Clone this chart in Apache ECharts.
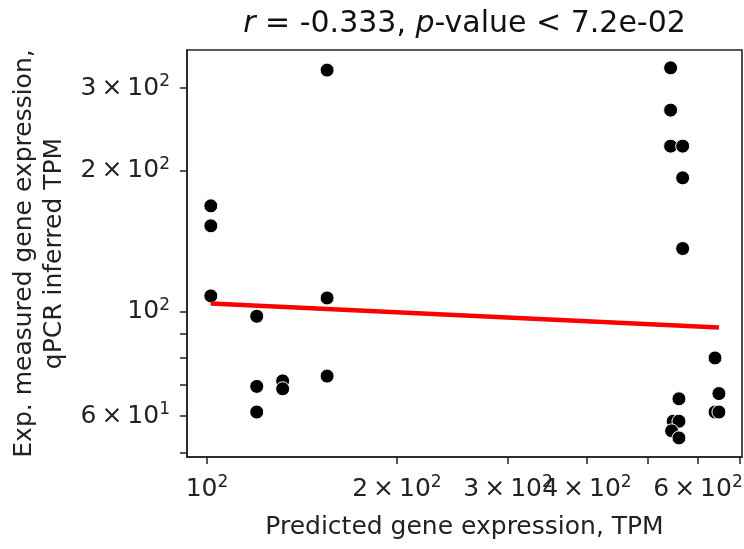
<!DOCTYPE html>
<html>
<head>
<meta charset="utf-8">
<script src="https://cdn.jsdelivr.net/npm/echarts@6/dist/echarts.min.js"></script>
<style>html,body{margin:0;padding:0;background:#fff}#c{width:744px;height:549px}</style>
</head>
<body>
<div id="c"></div>
<script>
// Data
const predictedTPM = [101.4, 101.4, 101.4, 119.9, 119.9, 119.9, 131.8, 131.8, 155.0, 155.0, 155.0,
  543.0, 543.0, 543.0, 567.4, 567.4, 567.4, 559.8, 548.2, 559.8, 545.0, 559.8, 638.5, 647.7, 638.5, 647.7];
const measuredTPM = [168.3, 152.6, 108.2, 97.9, 69.4, 61.2, 71.3, 68.6, 327.6, 107.1, 73.0,
  331.3, 269.2, 225.6, 225.6, 193.1, 136.5, 65.3, 58.5, 58.5, 55.8, 53.9, 79.8, 67.0, 61.2, 61.2];
const fitX = [101.4, 647.7];
const fitY = [104.2, 92.6];
const xTickValues = [100, 200, 300, 400, 500, 600, 700];
const xLabelValues = [100, 200, 300, 400, 600];
const yTickValues = [50, 60, 70, 80, 90, 100, 200, 300];
const yLabelValues = [60, 100, 200, 300];
const titleText = '{i|r} = -0.333, {i|p}-value < 7.2e-02';
const xName = 'Predicted gene expression, TPM';
const yName = 'Exp. measured gene expression,\nqPCR inferred TPM';

const FONT = 'DejaVu Sans';
function sciLabel(v) {
  const e = Math.floor(Math.log10(v) + 1e-9);
  const m = Math.round(v / Math.pow(10, e));
  return m === 1 ? '10{sup|' + e + '}' : m + '\u2009×\u200910{sup|' + e + '}';
}
const labelRich = { sup: { fontSize: 17, lineHeight: 15, verticalAlign: 'top', fontFamily: FONT, color: '#222' } };

const gridL = 187, gridR = 2, gridT = 50, gridB = 92;
const chart = echarts.init(document.getElementById('c'), null, { renderer: 'canvas' });
chart.setOption({
  animation: false,
  title: {
    text: titleText,
    left: (gridL + 744 - gridR) / 2,
    textAlign: 'center',
    top: 9,
    padding: 0,
    textStyle: {
      fontFamily: FONT, fontSize: 30, fontWeight: 'normal', color: '#111',
      rich: { i: { fontFamily: FONT, fontSize: 30, fontStyle: 'italic', color: '#111' } }
    }
  },
  grid: {
    left: gridL, right: gridR, top: gridT, bottom: gridB,
    show: true, borderColor: '#222', borderWidth: 1.6,
    containLabel: false, outerBoundsMode: 'none'
  },
  xAxis: {
    type: 'log', logBase: 10, min: 92.96, max: 704.6,
    name: xName, nameLocation: 'middle', nameGap: 58,
    nameTextStyle: { fontFamily: FONT, fontSize: 25, color: '#222' },
    axisLine: { show: true, lineStyle: { color: '#222', width: 1.6 } },
    axisTick: { show: true, length: 7, customValues: xTickValues, lineStyle: { color: '#222', width: 1.5 } },
    axisLabel: {
      customValues: xLabelValues, hideOverlap: false, margin: 17,
      fontFamily: FONT, fontSize: 25, lineHeight: 30, color: '#222',
      formatter: v => sciLabel(v), rich: labelRich
    },
    splitLine: { show: false }, minorTick: { show: false }
  },
  yAxis: {
    type: 'log', logBase: 10, min: 49.08, max: 361.6,
    name: yName, nameLocation: 'middle', nameGap: 114, nameRotate: 90,
    nameTextStyle: { fontFamily: FONT, fontSize: 25, lineHeight: 30, color: '#222' },
    axisLine: { show: true, lineStyle: { color: '#222', width: 1.6 } },
    axisTick: { show: true, length: 7, customValues: yTickValues, lineStyle: { color: '#222', width: 1.5 } },
    axisLabel: {
      customValues: yLabelValues, hideOverlap: false, margin: 17,
      fontFamily: FONT, fontSize: 25, lineHeight: 30, color: '#222',
      formatter: v => sciLabel(v), rich: labelRich
    },
    splitLine: { show: false }, minorTick: { show: false }
  },
  series: [
    {
      type: 'scatter',
      data: predictedTPM.map((x, i) => [x, measuredTPM[i]]),
      symbol: 'circle', symbolSize: 14,
      itemStyle: { color: '#000', borderColor: '#fff', borderWidth: 1, opacity: 1 },
      z: 2
    },
    {
      type: 'line',
      data: fitX.map((x, i) => [x, fitY[i]]),
      symbol: 'none',
      lineStyle: { color: '#ff0000', width: 4.5 },
      z: 3
    }
  ]
});
</script>
</body>
</html>
